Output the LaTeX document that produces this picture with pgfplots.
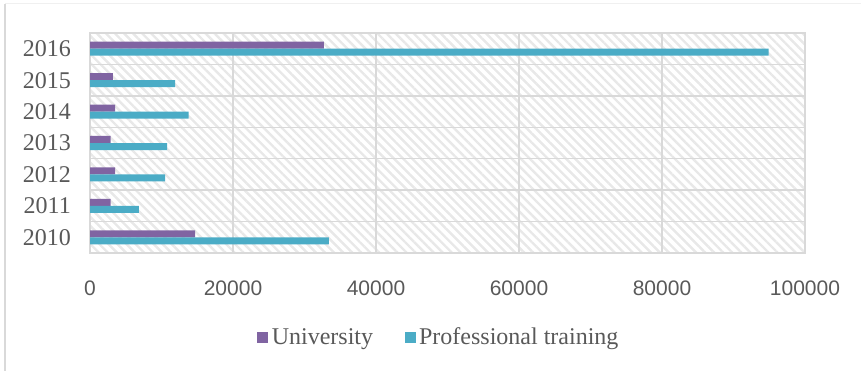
\documentclass[border=0pt]{standalone}
\usepackage{fontspec}
\setmainfont{Liberation Serif}
\newfontfamily\numfont{Liberation Sans}
\usepackage{pgfplots}
\pgfplotsset{compat=1.18}
\usetikzlibrary{patterns.meta}

\definecolor{univ}{HTML}{8064A2}
\definecolor{prof}{HTML}{4BACC6}
\definecolor{gridgray}{HTML}{D9D9D9}
\definecolor{labelgray}{HTML}{595959}

\begin{document}
\begin{tikzpicture}
\useasboundingbox (0,0) rectangle (861bp,371bp);
% light frame
\draw[gridgray!40, line width=1bp] (5bp,367bp) -- (861bp,367bp);
\draw[gridgray, line width=1.5bp] (5bp,367bp) -- (5bp,0);
\begin{axis}[
  at={(90bp,118bp)}, anchor=south west,
  scale only axis, width=715bp, height=220bp,
  xbar, bar width=7bp,
  xmin=0, xmax=100000,
  ymin=-0.5, ymax=6.5,
  xtick={0,20000,40000,60000,80000,100000},
  scaled x ticks=false,
  xticklabel style={/pgf/number format/fixed, /pgf/number format/1000 sep={},
    /pgf/number format/assume math mode=true,
    font=\numfont\fontsize{21bp}{24bp}\selectfont, text=labelgray,
    inner sep=0pt, anchor=north, yshift=-28bp},
  ytick={0,1,2,3,4,5,6},
  yticklabels={2010,2011,2012,2013,2014,2015,2016},
  yticklabel style={font=\fontsize{24bp}{28bp}\selectfont, text=labelgray,
    inner sep=0pt, anchor=east, xshift=-19bp},
  minor ytick={0.5,1.5,2.5,3.5,4.5,5.5},
  major tick length=0pt, minor tick length=0pt,
  xmajorgrids, yminorgrids,
  grid style={draw=gridgray, line width=1.3bp},
  minor grid style={draw=gridgray, line width=1.3bp},
  axis line style={draw=gridgray, line width=1.3bp},
  axis background/.style={pattern={Lines[angle=-45,distance=6.4bp,line width=2.4bp]}, pattern color=gray!18},
  legend columns=2,
  legend style={at={(axis description cs:0.489,-0.382)}, anchor=center,
    draw=none, fill=none, inner sep=0pt,
    font=\fontsize{24bp}{28bp}\selectfont, text=labelgray,
    nodes={inner sep=3.5bp},
    /tikz/every even column/.append style={column sep=28bp}},
  legend image code/.code={\draw[#1, draw=none] (0bp,-5.5bp) rectangle (11bp,5.5bp);},
]
\addplot[fill=univ, draw=none, bar shift=3.5bp] coordinates {
  (14700,0) (2900,1) (3500,2) (2900,3) (3500,4) (3200,5) (32700,6)};
\addplot[fill=prof, draw=none, bar shift=-3.5bp] coordinates {
  (33400,0) (6850,1) (10500,2) (10800,3) (13800,4) (11900,5) (94900,6)};
\legend{University, Professional training}
\end{axis}
\end{tikzpicture}
\end{document}
